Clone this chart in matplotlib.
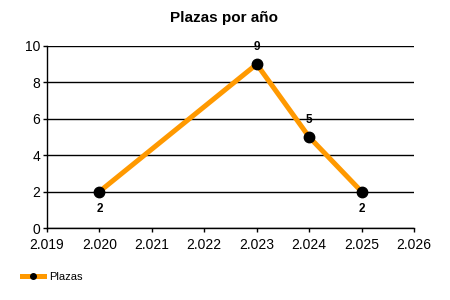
import matplotlib
matplotlib.use('Agg')
import matplotlib.pyplot as plt
from matplotlib.ticker import FuncFormatter
from matplotlib.lines import Line2D

# ── Data ──────────────────────────────────────────────────────────────────────
years  = [2020, 2023, 2024, 2025]
plazas = [2, 9, 5, 2]
label_offsets = [-1, 1, 1, -1]   # -1 label below point, 1 above

plt.rcParams['font.family'] = ['Liberation Sans', 'DejaVu Sans']

# ── Plot ──────────────────────────────────────────────────────────────────────
fig = plt.figure(figsize=(4.5, 3), dpi=100)
ax = fig.add_axes([0.1044, 0.24, 0.8156, 0.6067])

line, = ax.plot(years, plazas, color='#FF9900', linewidth=3.6,
                marker='o', markersize=7.5, markerfacecolor='black',
                markeredgecolor='black', label='Plazas', zorder=3)

for x, y, off in zip(years, plazas, label_offsets):
    ax.annotate(str(y), (x, y), xytext=(0, 8 * off), textcoords='offset points',
                ha='center', va='bottom' if off > 0 else 'top',
                fontsize=8.5, fontweight='bold', color='black')

ax.set_xlim(2019, 2026)
ax.set_ylim(0, 10)
ax.set_xticks(range(2019, 2027))
ax.set_yticks(range(0, 11, 2))
ax.xaxis.set_major_formatter(FuncFormatter(lambda v, p: f"{int(v):,}".replace(',', '.')))
ax.tick_params(axis='both', labelsize=10, length=3, width=1, colors='black')
ax.tick_params(axis='x', pad=4)
ax.tick_params(axis='y', pad=2)
ax.yaxis.grid(True, color='black', linewidth=1)
ax.set_axisbelow(True)
ax.spines[['top', 'right']].set_visible(False)
ax.spines[['left', 'bottom']].set_linewidth(1)

fig.text(0.497, 0.94, 'Plazas por año', ha='center', va='center',
         fontsize=11, fontweight='bold')

# Legend with a small marker
legend_handle = Line2D([], [], color='#FF9900', linewidth=3.6, marker='o',
                       markersize=4, markerfacecolor='black',
                       markeredgecolor='black')
fig.legend(handles=[legend_handle], labels=['Plazas'], loc='center left',
           bbox_to_anchor=(0.048, 0.077), frameon=False, fontsize=8,
           handlelength=2.0, handletextpad=0.5, borderaxespad=0, borderpad=0)

fig.savefig('out.png', dpi=100)
